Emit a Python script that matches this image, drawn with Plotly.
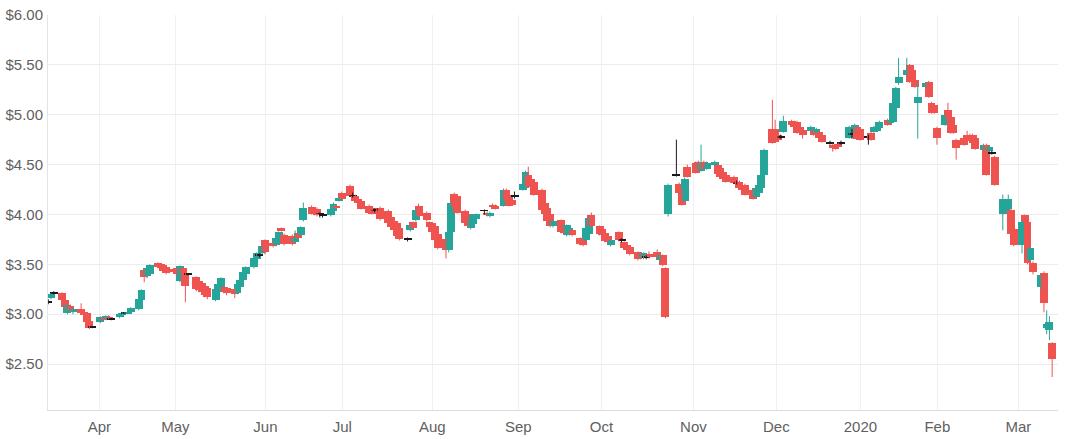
import pandas as pd
import plotly.graph_objects as go

# rows: (day, open, high, low, close)
mar19 = [(13,3.12,3.15,3.10,3.12),(14,3.16,3.21,3.15,3.20),(15,3.21,3.23,3.20,3.21),
         (18,3.21,3.22,3.13,3.14),(19,3.14,3.15,3.06,3.07),(20,3.01,3.10,3.00,3.09),
         (21,3.08,3.10,3.02,3.04),(22,3.02,3.06,3.00,3.05),(25,3.05,3.11,3.00,3.01),
         (26,3.02,3.04,2.99,3.00),(27,3.01,3.02,2.91,2.92),(28,2.93,2.94,2.85,2.86),
         (29,2.87,2.88,2.86,2.87)]
apr19 = [(1,2.92,2.98,2.91,2.97),(2,2.96,2.97,2.93,2.94),(3,2.95,2.99,2.94,2.98),
         (4,2.97,2.99,2.95,2.96),(5,2.95,2.96,2.94,2.95),(8,2.97,3.01,2.96,3.00),
         (9,2.99,3.02,2.98,3.01),(10,3.01,3.02,3.00,3.01),(11,3.01,3.03,3.00,3.02),
         (12,3.02,3.07,3.01,3.06),(15,3.05,3.16,3.04,3.15),(16,3.14,3.25,3.13,3.24),
         (17,3.44,3.45,3.32,3.37),(18,3.38,3.47,3.36,3.46),(19,3.40,3.50,3.39,3.49),
         (22,3.51,3.52,3.46,3.47),(23,3.50,3.51,3.45,3.46),(24,3.49,3.50,3.42,3.43),
         (25,3.47,3.48,3.40,3.41),(26,3.45,3.46,3.41,3.42),(29,3.46,3.47,3.39,3.40),
         (30,3.33,3.49,3.32,3.48)]
may19 = [(1,3.46,3.47,3.38,3.41),(2,3.41,3.42,3.12,3.28),(3,3.40,3.41,3.39,3.40),
         (6,3.37,3.38,3.23,3.25),(7,3.33,3.34,3.22,3.24),(8,3.31,3.32,3.21,3.22),
         (9,3.28,3.29,3.17,3.19),(10,3.26,3.27,3.15,3.17),(13,3.14,3.26,3.13,3.25),
         (14,3.22,3.31,3.21,3.30),(15,3.23,3.37,3.22,3.36),(16,3.27,3.28,3.21,3.22),
         (17,3.26,3.27,3.19,3.21),(20,3.25,3.26,3.16,3.20),(21,3.21,3.31,3.20,3.30),
         (22,3.27,3.35,3.26,3.34),(23,3.34,3.43,3.33,3.42),(24,3.40,3.48,3.39,3.47),
         (27,3.47,3.57,3.46,3.56),(28,3.55,3.62,3.54,3.61),(29,3.59,3.61,3.57,3.59),
         (30,3.61,3.69,3.60,3.68),(31,3.74,3.75,3.60,3.62)]
jun19 = [(3,3.71,3.73,3.67,3.68),(4,3.69,3.77,3.68,3.76),(5,3.74,3.83,3.73,3.82),
         (6,3.86,3.87,3.83,3.84),(7,3.79,3.81,3.69,3.70),(10,3.78,3.80,3.69,3.70),
         (11,3.72,3.84,3.71,3.76),(12,3.81,3.82,3.75,3.76),(13,3.79,3.88,3.78,3.87),
         (14,3.94,4.12,3.93,4.07),(17,4.08,4.09,4.00,4.01),(18,4.06,4.07,3.99,4.00),
         (19,4.06,4.07,3.98,3.99),(20,4.01,4.02,3.97,4.01),(21,3.99,4.00,3.97,3.99),
         (24,3.99,4.07,3.98,4.06),(25,4.04,4.12,4.03,4.11),(26,4.09,4.10,4.06,4.07),
         (27,4.14,4.18,4.13,4.17),(28,4.22,4.23,4.15,4.16)]
jul19 = [(1,4.29,4.30,4.18,4.19),(2,4.19,4.22,4.17,4.19),(3,4.19,4.20,4.13,4.14),
         (4,4.16,4.17,4.11,4.12),(5,4.14,4.15,4.05,4.06),(8,4.09,4.10,4.01,4.02),
         (9,4.07,4.08,4.00,4.01),(10,4.04,4.06,4.02,4.04),(11,4.05,4.06,4.04,4.05),
         (12,4.07,4.08,3.94,3.95),(15,4.04,4.05,3.90,3.91),(16,3.97,3.98,3.86,3.87),
         (17,3.93,3.94,3.83,3.84),(18,3.91,3.92,3.77,3.78),(19,3.86,3.87,3.74,3.75),
         (22,3.75,3.77,3.73,3.75),(23,3.84,3.90,3.83,3.89),(24,3.92,3.93,3.85,3.86),
         (25,3.94,4.06,3.93,4.05),(26,4.09,4.11,3.97,3.98),(29,4.02,4.03,3.93,3.94),
         (30,3.92,3.93,3.86,3.87),(31,3.91,3.92,3.81,3.82)]
aug19 = [(1,3.88,3.89,3.73,3.74),(2,3.80,3.81,3.65,3.66),(5,3.75,3.76,3.56,3.64),
         (6,3.64,3.83,3.62,3.82),(7,3.82,4.13,3.80,4.12),(8,4.21,4.22,4.07,4.08),
         (9,4.19,4.20,4.01,4.02),(12,4.04,4.05,3.90,3.91),(13,4.01,4.02,3.87,3.88),
         (14,3.86,3.96,3.85,3.95),(15,3.90,4.00,3.89,3.99),(16,3.95,4.01,3.94,4.00),
         (19,4.04,4.05,4.00,4.04),(20,4.02,4.03,3.98,3.99),(21,3.98,4.03,3.97,4.02),
         (22,4.10,4.11,4.07,4.08),(23,4.09,4.10,4.05,4.06),(26,4.09,4.26,4.08,4.25),
         (27,4.25,4.26,4.14,4.15),(28,4.20,4.21,4.08,4.09),(29,4.15,4.16,4.09,4.10),
         (30,4.19,4.23,4.16,4.19)]
sep19 = [(2,4.25,4.32,4.24,4.31),(3,4.27,4.44,4.26,4.43),(4,4.40,4.48,4.27,4.28),
         (5,4.36,4.37,4.27,4.28),(6,4.33,4.34,4.19,4.20),(9,4.25,4.26,4.03,4.05),
         (10,4.12,4.13,3.99,4.00),(11,4.07,4.08,3.92,3.93),(12,4.01,4.02,3.87,3.88),
         (13,3.88,3.94,3.87,3.93),(16,3.94,3.95,3.81,3.82),(17,3.86,3.87,3.80,3.81),
         (18,3.79,3.90,3.78,3.89),(19,3.80,3.87,3.79,3.86),(20,3.84,3.85,3.78,3.79),
         (23,3.76,3.77,3.69,3.70),(24,3.75,3.76,3.68,3.69),(25,3.74,3.87,3.73,3.86),
         (26,3.80,3.97,3.79,3.96),(27,3.99,4.02,3.87,3.88),(30,3.88,3.89,3.79,3.80)]
oct19 = [(1,3.85,3.86,3.78,3.79),(2,3.81,3.82,3.72,3.73),(3,3.78,3.79,3.71,3.72),
         (4,3.69,3.75,3.68,3.74),(7,3.82,3.83,3.73,3.74),(8,3.74,3.76,3.72,3.74),
         (9,3.72,3.73,3.65,3.66),(10,3.69,3.70,3.63,3.64),(11,3.67,3.68,3.59,3.60),
         (14,3.62,3.63,3.54,3.55),(15,3.60,3.61,3.55,3.56),(16,3.56,3.62,3.55,3.61),
         (17,3.57,3.59,3.55,3.57),(18,3.60,3.63,3.56,3.57),(21,3.62,3.65,3.56,3.57),
         (22,3.54,3.60,3.53,3.59),(23,3.59,3.60,3.48,3.49),(24,3.46,3.47,2.96,2.97),
         (25,4.00,4.31,3.98,4.30),(28,4.40,4.75,4.38,4.40),(29,4.31,4.32,4.21,4.22),
         (30,4.25,4.26,4.09,4.10),(31,4.14,4.37,4.13,4.36)]
nov19 = [(1,4.48,4.50,4.37,4.38),(4,4.52,4.53,4.41,4.42),(5,4.53,4.54,4.43,4.44),
         (6,4.44,4.70,4.43,4.52),(7,4.53,4.54,4.45,4.46),(8,4.46,4.53,4.45,4.52),
         (11,4.50,4.54,4.49,4.53),(12,4.50,4.51,4.40,4.41),(13,4.47,4.48,4.37,4.38),
         (14,4.43,4.44,4.35,4.36),(15,4.40,4.41,4.32,4.33),(18,4.38,4.39,4.31,4.32),
         (19,4.32,4.34,4.30,4.32),(20,4.33,4.34,4.26,4.27),(21,4.30,4.31,4.24,4.25),
         (22,4.30,4.31,4.19,4.20),(25,4.25,4.26,4.15,4.16),(26,4.18,4.28,4.17,4.27),
         (27,4.22,4.31,4.21,4.30),(28,4.27,4.41,4.26,4.40),(29,4.40,4.66,4.39,4.65)]
dec19 = [(2,4.86,5.15,4.71,4.72),(3,4.86,4.95,4.72,4.73),(4,4.80,4.81,4.74,4.75),
         (5,4.78,4.80,4.76,4.78),(6,4.83,4.99,4.82,4.94),(9,4.94,4.95,4.89,4.90),
         (10,4.93,4.94,4.87,4.88),(11,4.93,4.94,4.81,4.82),(12,4.88,4.89,4.81,4.82),
         (13,4.85,4.86,4.76,4.80),(16,4.84,4.89,4.83,4.88),(17,4.85,4.86,4.79,4.80),
         (18,4.82,4.87,4.81,4.86),(19,4.83,4.84,4.76,4.77),(20,4.80,4.81,4.72,4.73),
         (23,4.72,4.74,4.70,4.72),(24,4.70,4.71,4.63,4.67),(25,4.69,4.70,4.65,4.66),
         (26,4.71,4.72,4.67,4.68),(27,4.72,4.74,4.70,4.72),(30,4.77,4.89,4.76,4.88),
         (31,4.81,4.86,4.76,4.81)]
jan20 = [(1,4.84,4.91,4.83,4.90),(2,4.88,4.89,4.75,4.76),(3,4.86,4.87,4.74,4.75),
         (6,4.78,4.80,4.70,4.78),(7,4.82,4.83,4.74,4.75),(8,4.83,4.89,4.82,4.88),
         (9,4.84,4.89,4.83,4.88),(10,4.87,4.94,4.86,4.93),(13,4.95,4.96,4.89,4.90),
         (14,4.92,4.96,4.91,4.95),(15,4.93,5.13,4.92,5.12),(16,5.07,5.28,5.06,5.27),
         (17,5.32,5.57,5.30,5.38),(20,5.40,5.57,5.38,5.45),(21,5.50,5.51,5.32,5.33),
         (22,5.45,5.46,5.33,5.34),(23,5.35,5.36,5.27,5.28),(24,5.12,5.32,4.76,5.18),
         (27,5.28,5.33,5.27,5.32),(28,5.33,5.34,5.17,5.18),(29,5.12,5.13,5.01,5.02),
         (30,5.10,5.11,5.01,5.02),(31,4.87,4.88,4.70,4.77)]
feb20 = [(3,4.90,5.01,4.89,5.00),(4,5.05,5.12,4.95,4.96),(5,4.98,4.99,4.81,4.82),
         (6,4.90,4.91,4.81,4.82),(7,4.75,4.76,4.55,4.67),(10,4.77,4.78,4.69,4.70),
         (11,4.80,4.84,4.76,4.77),(12,4.80,4.81,4.73,4.74),(13,4.80,4.81,4.71,4.72),
         (14,4.77,4.78,4.65,4.66),(17,4.65,4.71,4.64,4.70),(18,4.70,4.71,4.39,4.40),
         (19,4.64,4.69,4.63,4.68),(20,4.62,4.64,4.60,4.62),(21,4.58,4.59,4.29,4.30),
         (24,4.00,4.20,3.84,4.16),(25,4.04,4.13,4.03,4.12),(26,4.06,4.20,4.05,4.16),
         (27,4.05,4.06,3.79,3.80),(28,3.85,3.86,3.68,3.69)]
mar20 = [(2,3.69,3.95,3.61,3.92),(3,3.99,4.00,3.90,3.92),(4,3.92,3.94,3.50,3.51),
         (5,3.54,3.68,3.52,3.66),(6,3.51,3.53,3.40,3.42),(9,3.27,3.40,3.25,3.39),
         (10,3.41,3.43,3.02,3.11),(11,2.86,3.04,2.80,2.90),(12,2.84,2.98,2.74,2.92),
         (13,2.71,2.72,2.37,2.55)]

months = [(2019, 3, mar19), (2019, 4, apr19), (2019, 5, may19), (2019, 6, jun19),
          (2019, 7, jul19), (2019, 8, aug19), (2019, 9, sep19), (2019, 10, oct19),
          (2019, 11, nov19), (2019, 12, dec19), (2020, 1, jan20), (2020, 2, feb20),
          (2020, 3, mar20)]

# x-axis label positions as they sit in the source chart
tick_dates = ["2019-03-31 15:00", "2019-04-28 08:00", "2019-05-31 04:00",
              "2019-06-28 05:00", "2019-07-31 01:00", "2019-08-31 09:00",
              "2019-09-30 16:00", "2019-11-03 05:00", "2019-12-03 11:00",
              "2020-01-03 02:00", "2020-01-31 03:00", "2020-02-29 16:00"]
tick_text = ["Apr", "May", "Jun", "Jul", "Aug", "Sep", "Oct", "Nov", "Dec", "2020",
             "Feb", "Mar"]
price_ticks = [2.5, 3.0, 3.5, 4.0, 4.5, 5.0, 5.5, 6.0]
price_text = ["$%.2f" % v for v in price_ticks]

rows = []
for y, m, data in months:
    for d, o, h, l, c in data:
        rows.append(dict(date=pd.Timestamp(y, m, d), open=o, high=h, low=l, close=c))
df = pd.DataFrame(rows)

UP, DOWN, DOJI = "#26a69a", "#ef5350", "#1a1a1a"
BODY_DAYS = 2.9
width_ms = BODY_DAYS * 86400000

def kind(r):
    if abs(r.close - r.open) < 1e-9:
        return "doji"
    return "up" if r.close > r.open else "down"

df["kind"] = df.apply(kind, axis=1)
colors = df["kind"].map({"up": UP, "down": DOWN, "doji": DOJI})
base = df[["open", "close"]].min(axis=1)
height = (df["close"] - df["open"]).abs()
base = base.where(df["kind"] != "doji", df["open"] - 0.005)
height = height.where(df["kind"] != "doji", 0.01)

fig = go.Figure()
for k, col in (("up", UP), ("down", DOWN), ("doji", DOJI)):
    sub = df[df["kind"] == k]
    xs, ys = [], []
    for _, r in sub.iterrows():
        xs += [r.date, r.date, None]
        ys += [r.high, r.low, None]
    fig.add_trace(go.Scatter(x=xs, y=ys, mode="lines", line=dict(color=col, width=1),
                             hoverinfo="skip", showlegend=False))

fig.add_trace(go.Bar(x=df["date"], y=height, base=base, width=[width_ms] * len(df),
                     marker=dict(color=colors, line=dict(width=0)),
                     showlegend=False,
                     customdata=df[["open", "high", "low", "close"]].values,
                     hovertemplate="O %{customdata[0]:.2f} H %{customdata[1]:.2f} "
                                   "L %{customdata[2]:.2f} C %{customdata[3]:.2f}<extra></extra>"))

fig.update_layout(
    width=1080, height=439,
    margin=dict(l=48, r=22, t=15, b=29),
    paper_bgcolor="white", plot_bgcolor="white",
    font=dict(family="Liberation Sans, Arial, sans-serif", size=15, color="#5f5f5f"),
    bargap=0, showlegend=False,
)
fig.update_xaxes(
    type="date", range=["2019-03-12 22:00", "2020-03-15 03:00"],
    tickvals=tick_dates, ticktext=tick_text, showgrid=True, gridcolor="#f0f0f0",
    showline=True, linecolor="#dddddd", linewidth=1, ticks="", zeroline=False,
    ticklabelstandoff=3, automargin=False,
)
fig.update_yaxes(
    range=[2.04, 6.0], tickvals=price_ticks, ticktext=price_text,
    showgrid=True, gridcolor="#ececec", showline=True, linecolor="#e4e4e4",
    ticks="", zeroline=False, ticklabelstandoff=1, automargin=False,
)

fig.write_html("out.html")
